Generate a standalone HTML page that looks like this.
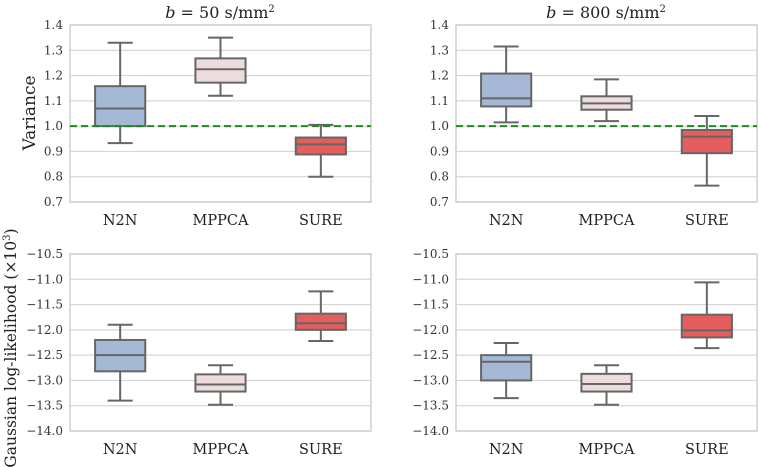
<!DOCTYPE html>
<html><head><meta charset="utf-8"><style>
body{margin:0;background:#fff;}
svg{display:block;font-family:"DejaVu Serif","Liberation Serif",serif;}
</style></head><body>
<svg id="fig" width="760" height="467" viewBox="0 0 760 467"></svg>
<script>
const categories=["N2N","MPPCA","SURE"];
const colors=["#a5b9d6","#ecdcdb","#e55d5d"];
// [whisker-low, q1, median, q3, whisker-high]
const varB50=[[0.933,1.0,1.07,1.158,1.33],[1.12,1.172,1.225,1.268,1.35],[0.8,0.888,0.928,0.955,1.005]];
const varB800=[[1.015,1.078,1.11,1.208,1.315],[1.02,1.065,1.09,1.118,1.185],[0.765,0.893,0.958,0.985,1.04]];
const llB50=[[-13.4,-12.82,-12.5,-12.2,-11.9],[-13.48,-13.22,-13.08,-12.88,-12.7],[-12.22,-12.0,-11.87,-11.68,-11.24]];
const llB800=[[-13.35,-13.0,-12.63,-12.5,-12.26],[-13.48,-13.22,-13.07,-12.87,-12.7],[-12.36,-12.15,-12.01,-11.7,-11.06]];
const varTicks=[0.7,0.8,0.9,1.0,1.1,1.2,1.3,1.4];
const llTicks=[-14.0,-13.5,-13.0,-12.5,-12.0,-11.5,-11.0,-10.5];
const refLine=1.0;

const svg=document.getElementById('fig');
const NS='http://www.w3.org/2000/svg';
function mk(tag,attrs,parent){const e=document.createElementNS(NS,tag);for(const k in attrs)e.setAttribute(k,attrs[k]);(parent||svg).appendChild(e);return e;}
function fmt(v,d){return (v<0?'\u2212':'')+Math.abs(v).toFixed(d);}

function panel(x0,x1,y0,y1,ticks,data,name,ref){
  const g=mk('g',{});
  
  
  const lo=ticks[0],hi=ticks[ticks.length-1];
  const ys=v=>y1-(v-lo)/(hi-lo)*(y1-y0);
  const bw=(x1-x0)/categories.length;
  const xs=i=>x0+bw*(i+0.5);
  ticks.forEach(t=>{
    const y=ys(t);
    const l=mk('line',{x1:x0,x2:x1,y1:y,y2:y,stroke:'#d6d6d6','stroke-width':1.2},g);
    
    
    const tx=mk('text',{x:x0-7,y:y+4,'text-anchor':'end','font-size':12,fill:'#333'},g);
    tx.textContent=fmt(t,1);
    
    
  });
  const fr=mk('rect',{x:x0,y:y0,width:x1-x0,height:y1-y0,fill:'none',stroke:'#cfcfcf','stroke-width':1.5},g);
  
  
  data.forEach((d,i)=>{
    const cx=xs(i),w=bw*0.5,cw=w*0.5;
    const bg=mk('g',{},g);
    
    
    const st={stroke:'#666','stroke-width':2};
    mk('line',Object.assign({x1:cx,x2:cx,y1:ys(d[0]),y2:ys(d[1])},st),bg);
    mk('line',Object.assign({x1:cx,x2:cx,y1:ys(d[3]),y2:ys(d[4])},st),bg);
    mk('line',Object.assign({x1:cx-cw/2,x2:cx+cw/2,y1:ys(d[0]),y2:ys(d[0])},st),bg);
    mk('line',Object.assign({x1:cx-cw/2,x2:cx+cw/2,y1:ys(d[4]),y2:ys(d[4])},st),bg);
    mk('rect',Object.assign({x:cx-w/2,y:ys(d[3]),width:w,height:ys(d[1])-ys(d[3]),fill:colors[i]},st),bg);
    mk('line',Object.assign({x1:cx-w/2,x2:cx+w/2,y1:ys(d[2]),y2:ys(d[2])},st),bg);
    const xl=mk('text',{x:cx,y:y1+23,'text-anchor':'middle','font-size':14.5,fill:'#222'},g);
    xl.textContent=categories[i];
    
    
  });
  if(ref!==undefined){
    const rl=mk('line',{x1:x0,x2:x1,y1:ys(ref),y2:ys(ref),stroke:'#1a8c1a','stroke-width':2,'stroke-dasharray':'7,4'},g);
    
    
  }
}
panel(70,371,25,202,varTicks,varB50,'panel-variance-b50',refLine);
panel(456,757,25,202,varTicks,varB800,'panel-variance-b800',refLine);
panel(70,371,254,431,llTicks,llB50,'panel-loglik-b50');
panel(456,757,254,431,llTicks,llB800,'panel-loglik-b800');
</script>
<script>
(function(){
const svg=document.getElementById('fig');const NS='http://www.w3.org/2000/svg';
function t(x,y,html,size,name,rot){const e=document.createElementNS(NS,'text');e.setAttribute('x',x);e.setAttribute('y',y);e.setAttribute('text-anchor','middle');e.setAttribute('font-size',size);e.setAttribute('fill','#222');if(rot)e.setAttribute('transform','rotate(-90 '+x+' '+y+')');e.innerHTML=html;


svg.appendChild(e);}
t(220,18,'<tspan font-style="italic">b</tspan> = 50 s/mm<tspan font-size="10" dy="-6">2</tspan>',16,'title-b50');
t(606,18,'<tspan font-style="italic">b</tspan> = 800 s/mm<tspan font-size="10" dy="-6">2</tspan>',16,'title-b800');
t(35,113,'Variance',17,'y-axis-title-variance',true);
t(16,348,'Gaussian log-likelihood (×10<tspan font-size="10" dy="-6">3</tspan><tspan dy="6">)</tspan>',15.5,'y-axis-title-loglik',true);
})();
</script>
</body></html>
